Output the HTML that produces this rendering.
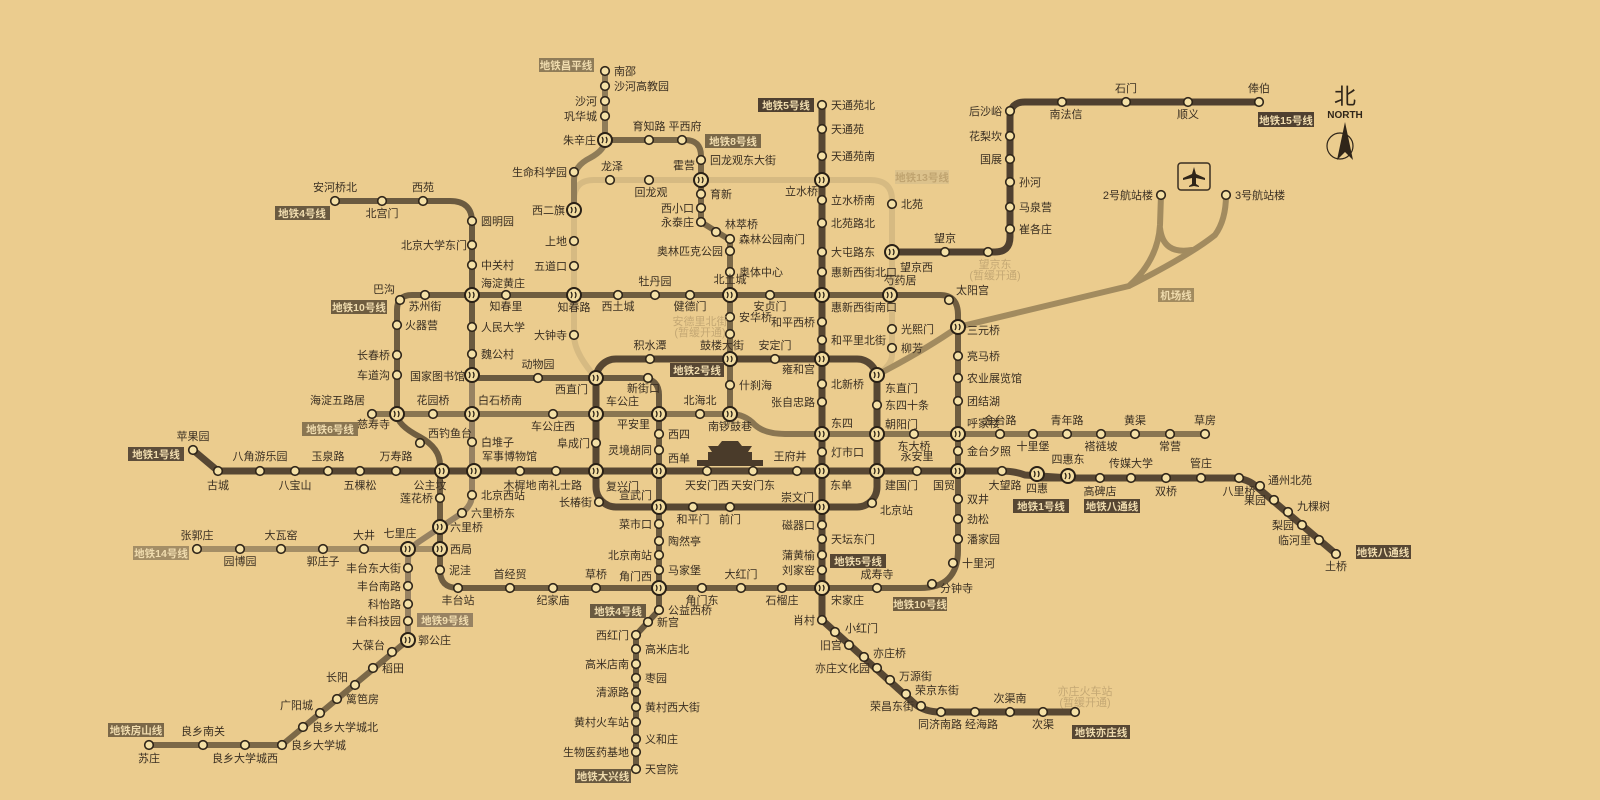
<!DOCTYPE html>
<html><head><meta charset="utf-8"><style>
html,body{margin:0;padding:0;background:#ebcc8e;}
svg{display:block;}
text{font-family:"Liberation Sans","Noto Sans CJK SC",sans-serif;font-size:11px;fill:#3a2f22;}
.r{text-anchor:start}.l{text-anchor:end}.c{text-anchor:middle}
.bx{fill:#f0dcae;font-size:10.5px;font-weight:bold;text-anchor:middle}
.lt{fill:#c4a874}
</style></head><body>
<svg width="1600" height="800" viewBox="0 0 1600 800" xmlns="http://www.w3.org/2000/svg">
<defs>
<symbol id="s" overflow="visible"><circle r="4.3" fill="#f4e0a6" stroke="#2f2519" stroke-width="1.6"/></symbol>
<symbol id="x" overflow="visible"><circle r="7" fill="#f2dca0" stroke="#2a2116" stroke-width="2"/><path d="M-3,-3 q2,3 0,6 M1,-3 q2,3 0,6" stroke="#2a2116" stroke-width="1.3" fill="none"/></symbol>
</defs>
<rect width="1600" height="800" fill="#ebcc8e"/>
<g fill="none" stroke-linejoin="round" stroke-linecap="round">
<!-- 13 -->
<path d="M596,378 C585,365 574,350 574,335 L574,200 Q574,180 594,180 L870,180 Q892,180 892,200 L892,355 Q892,365 877,375" stroke="#d6ba82" stroke-width="6"/>
<!-- airport -->
<path d="M877,375 Q925,350 958,327 L1129,286 M1129,286 Q1158,260 1160,225 L1161,195 M1129,286 Q1190,255 1215,235 Q1226,220 1226,195 M1160,228 Q1163,255 1192,250" stroke="#a28b5f" stroke-width="6"/>
<!-- 14 -->
<path d="M197,549 L440,549" stroke="#a48e66" stroke-width="6"/>
<!-- changping -->
<path d="M605,71 L605,140 Q605,150 590,158 Q574,166 574,180 L574,210" stroke="#8f7c58" stroke-width="6"/>
<!-- 9 -->
<path d="M472,375 L472,495 Q472,505 462,513 L420,541 Q408,549 408,560 L408,640" stroke="#978262" stroke-width="6"/>
<!-- 6 -->
<path d="M372,414 L730,414 Q745,414 755,425 Q765,434 785,434 L1205,434" stroke="#8a7652" stroke-width="6"/>
<!-- 10 -->
<path d="M397,414 L397,310 Q397,295 412,295 L940,295 Q958,295 958,315 L958,550 Q958,588 920,588 L458,588 Q440,588 440,570 L440,465 Q440,448 420,437 Q397,425 397,414 Z" stroke="#6f5d40" stroke-width="6"/>
<!-- 8 -->
<path d="M605,140 L685,140 Q701,140 701,156 L701,222 L730,240 L730,414" stroke="#7a6848" stroke-width="6"/>
<!-- 4 -->
<path d="M335,201 L450,201 Q472,201 472,222 L472,372 Q472,378 480,378 L640,378 Q659,378 659,395 L659,610 L636,635 L636,769" stroke="#6a5a40" stroke-width="6"/>
<!-- fangshan -->
<path d="M408,640 L282,745 L149,745" stroke="#7b6848" stroke-width="6"/>
<!-- 2 -->
<rect x="596" y="359" width="281" height="148" rx="20" stroke="#574733" stroke-width="7"/>
<!-- 1 / batong -->
<path d="M193,450 L218,471 L1000,471 Q1015,471 1025,475 L1070,478 M1037,478 L1232,478 Q1248,478 1258,488 L1336,554" stroke="#574733" stroke-width="7"/>
<!-- 5 / yizhuang -->
<path d="M822,105 L822,620 L915,704 Q925,712 940,712 L1075,712" stroke="#574733" stroke-width="7"/>
<!-- 15 -->
<path d="M892,252 L995,252 Q1010,252 1010,237 L1010,117 Q1010,102 1025,102 L1259,102" stroke="#4f4030" stroke-width="7"/>
</g>
<!-- Tiananmen -->
<g fill="#4a3b2a"><rect x="697" y="460" width="66" height="6"/><rect x="708" y="452" width="44" height="8"/><polygon points="712,452 748,452 752,446 708,446"/><polygon points="718,446 742,446 738,441 722,441"/></g>
<!-- stations -->
<g>
<use href="#s" x="193" y="450"/><use href="#s" x="218" y="471"/><use href="#s" x="260" y="471"/><use href="#s" x="295" y="471"/><use href="#s" x="328" y="471"/><use href="#s" x="360" y="471"/><use href="#s" x="396" y="471"/><use href="#s" x="520" y="471"/><use href="#s" x="556" y="471"/><use href="#s" x="707" y="471"/><use href="#s" x="753" y="471"/><use href="#s" x="797" y="471"/><use href="#s" x="917" y="471"/><use href="#s" x="1002" y="471"/>
<use href="#s" x="1100" y="478"/><use href="#s" x="1131" y="478"/><use href="#s" x="1166" y="478"/><use href="#s" x="1201" y="478"/><use href="#s" x="1239" y="478"/><use href="#s" x="1260" y="486"/><use href="#s" x="1274" y="500"/><use href="#s" x="1288" y="512"/><use href="#s" x="1302" y="525"/><use href="#s" x="1319" y="540"/><use href="#s" x="1336" y="554"/>
<use href="#s" x="650" y="359"/><use href="#s" x="775" y="359"/><use href="#s" x="877" y="405"/><use href="#s" x="872" y="503"/><use href="#s" x="730" y="507"/><use href="#s" x="693" y="507"/><use href="#s" x="599" y="502"/><use href="#s" x="596" y="443"/>
<use href="#s" x="335" y="201"/><use href="#s" x="382" y="201"/><use href="#s" x="423" y="201"/><use href="#s" x="472" y="221"/><use href="#s" x="472" y="245"/><use href="#s" x="472" y="265"/><use href="#s" x="472" y="327"/><use href="#s" x="472" y="354"/><use href="#s" x="538" y="378"/><use href="#s" x="648" y="378"/><use href="#s" x="659" y="434"/><use href="#s" x="659" y="450"/><use href="#s" x="659" y="524"/><use href="#s" x="659" y="541"/><use href="#s" x="659" y="555"/><use href="#s" x="659" y="570"/><use href="#s" x="659" y="610"/><use href="#s" x="648" y="622"/><use href="#s" x="636" y="635"/><use href="#s" x="636" y="649"/><use href="#s" x="636" y="664"/><use href="#s" x="636" y="678"/><use href="#s" x="636" y="692"/><use href="#s" x="636" y="707"/><use href="#s" x="636" y="722"/><use href="#s" x="636" y="739"/><use href="#s" x="636" y="752"/><use href="#s" x="636" y="769"/>
<use href="#s" x="822" y="105"/><use href="#s" x="822" y="129"/><use href="#s" x="822" y="156"/><use href="#s" x="822" y="200"/><use href="#s" x="822" y="223"/><use href="#s" x="822" y="252"/><use href="#s" x="822" y="272"/><use href="#s" x="822" y="322"/><use href="#s" x="822" y="340"/><use href="#s" x="822" y="384"/><use href="#s" x="822" y="402"/><use href="#s" x="822" y="452"/><use href="#s" x="822" y="525"/><use href="#s" x="822" y="539"/><use href="#s" x="822" y="555"/><use href="#s" x="822" y="570"/>
<use href="#s" x="822" y="620"/><use href="#s" x="835" y="632"/><use href="#s" x="849" y="645"/><use href="#s" x="864" y="657"/><use href="#s" x="877" y="668"/><use href="#s" x="890" y="680"/><use href="#s" x="906" y="694"/><use href="#s" x="921" y="706"/><use href="#s" x="941" y="712"/><use href="#s" x="975" y="712"/><use href="#s" x="1010" y="712"/><use href="#s" x="1043" y="712"/><use href="#s" x="1075" y="712"/>
<use href="#s" x="400" y="300"/><use href="#s" x="425" y="295"/><use href="#s" x="506" y="295"/><use href="#s" x="618" y="295"/><use href="#s" x="655" y="295"/><use href="#s" x="690" y="295"/><use href="#s" x="770" y="295"/><use href="#s" x="949" y="300"/><use href="#s" x="958" y="356"/><use href="#s" x="958" y="378"/><use href="#s" x="958" y="401"/><use href="#s" x="958" y="451"/><use href="#s" x="958" y="499"/><use href="#s" x="958" y="519"/><use href="#s" x="958" y="539"/><use href="#s" x="953" y="563"/><use href="#s" x="932" y="584"/><use href="#s" x="877" y="588"/><use href="#s" x="782" y="588"/><use href="#s" x="741" y="588"/><use href="#s" x="702" y="588"/><use href="#s" x="596" y="588"/><use href="#s" x="553" y="588"/><use href="#s" x="510" y="588"/><use href="#s" x="458" y="588"/><use href="#s" x="440" y="570"/><use href="#s" x="440" y="498"/><use href="#s" x="420" y="443"/><use href="#s" x="397" y="375"/><use href="#s" x="397" y="355"/><use href="#s" x="397" y="325"/>
<use href="#s" x="472" y="442"/><use href="#s" x="472" y="495"/><use href="#s" x="462" y="513"/><use href="#s" x="408" y="568"/><use href="#s" x="408" y="586"/><use href="#s" x="408" y="604"/><use href="#s" x="408" y="621"/>
<use href="#s" x="392" y="652"/><use href="#s" x="373" y="668"/><use href="#s" x="355" y="685"/><use href="#s" x="337" y="699"/><use href="#s" x="320" y="713"/><use href="#s" x="303" y="727"/><use href="#s" x="282" y="745"/><use href="#s" x="245" y="745"/><use href="#s" x="203" y="745"/><use href="#s" x="149" y="745"/>
<use href="#s" x="197" y="549"/><use href="#s" x="240" y="549"/><use href="#s" x="281" y="549"/><use href="#s" x="323" y="549"/><use href="#s" x="364" y="549"/>
<use href="#s" x="372" y="414"/><use href="#s" x="433" y="414"/><use href="#s" x="553" y="414"/><use href="#s" x="700" y="414"/><use href="#s" x="914" y="434"/><use href="#s" x="1000" y="434"/><use href="#s" x="1033" y="434"/><use href="#s" x="1067" y="434"/><use href="#s" x="1101" y="434"/><use href="#s" x="1135" y="434"/><use href="#s" x="1170" y="434"/><use href="#s" x="1205" y="434"/>
<use href="#s" x="649" y="140"/><use href="#s" x="682" y="140"/><use href="#s" x="701" y="160"/><use href="#s" x="701" y="194"/><use href="#s" x="701" y="208"/><use href="#s" x="701" y="222"/><use href="#s" x="716" y="232"/><use href="#s" x="730" y="239"/><use href="#s" x="730" y="251"/><use href="#s" x="730" y="272"/><use href="#s" x="730" y="317"/><use href="#s" x="730" y="334"/><use href="#s" x="730" y="385"/>
<use href="#s" x="605" y="71"/><use href="#s" x="605" y="86"/><use href="#s" x="605" y="101"/><use href="#s" x="605" y="116"/><use href="#s" x="574" y="172"/>
<use href="#s" x="574" y="241"/><use href="#s" x="574" y="266"/><use href="#s" x="574" y="335"/><use href="#s" x="610" y="180"/><use href="#s" x="649" y="180"/><use href="#s" x="892" y="204"/><use href="#s" x="892" y="329"/><use href="#s" x="892" y="348"/>
<use href="#s" x="945" y="252"/><use href="#s" x="988" y="252"/><use href="#s" x="1010" y="229"/><use href="#s" x="1010" y="207"/><use href="#s" x="1010" y="182"/><use href="#s" x="1010" y="159"/><use href="#s" x="1010" y="136"/><use href="#s" x="1010" y="111"/><use href="#s" x="1062" y="102"/><use href="#s" x="1126" y="102"/><use href="#s" x="1188" y="102"/><use href="#s" x="1259" y="102"/>
<use href="#s" x="1161" y="195"/><use href="#s" x="1226" y="195"/>
<!-- interchanges -->
<use href="#x" x="442" y="471"/><use href="#x" x="474" y="471"/><use href="#x" x="596" y="471"/><use href="#x" x="659" y="471"/><use href="#x" x="822" y="471"/><use href="#x" x="877" y="471"/><use href="#x" x="958" y="471"/><use href="#x" x="1037" y="474"/><use href="#x" x="1068" y="476"/>
<use href="#x" x="596" y="378"/><use href="#x" x="730" y="359"/><use href="#x" x="822" y="359"/><use href="#x" x="877" y="375"/><use href="#x" x="877" y="434"/><use href="#x" x="822" y="507"/><use href="#x" x="659" y="507"/><use href="#x" x="596" y="414"/>
<use href="#x" x="472" y="295"/><use href="#x" x="472" y="375"/><use href="#x" x="659" y="414"/><use href="#x" x="659" y="588"/><use href="#x" x="822" y="180"/><use href="#x" x="822" y="295"/><use href="#x" x="822" y="434"/><use href="#x" x="822" y="588"/>
<use href="#x" x="574" y="295"/><use href="#x" x="730" y="295"/><use href="#x" x="890" y="295"/><use href="#x" x="958" y="327"/><use href="#x" x="958" y="434"/><use href="#x" x="440" y="549"/><use href="#x" x="440" y="527"/><use href="#x" x="397" y="414"/>
<use href="#x" x="408" y="549"/><use href="#x" x="408" y="640"/><use href="#x" x="472" y="414"/><use href="#x" x="730" y="414"/><use href="#x" x="605" y="140"/><use href="#x" x="701" y="180"/><use href="#x" x="574" y="210"/><use href="#x" x="892" y="252"/>
</g>
<!-- labels -->
<g>
<text class="c" x="193" y="440">苹果园</text><text class="c" x="218" y="489">古城</text><text class="c" x="260" y="460">八角游乐园</text><text class="c" x="295" y="489">八宝山</text><text class="c" x="328" y="460">玉泉路</text><text class="c" x="360" y="489">五棵松</text><text class="c" x="396" y="460">万寿路</text><text class="c" x="430" y="489">公主坟</text><text class="r" x="482" y="460">军事博物馆</text><text class="c" x="520" y="489">木樨地</text><text class="c" x="560" y="489">南礼士路</text><text class="r" x="606" y="490">复兴门</text><text class="r" x="668" y="462">西单</text><text class="c" x="707" y="489">天安门西</text><text class="c" x="753" y="489">天安门东</text><text class="c" x="790" y="460">王府井</text><text class="r" x="830" y="489">东单</text><text class="r" x="885" y="489">建国门</text><text class="c" x="917" y="460">永安里</text><text class="l" x="955" y="489">国贸</text><text class="c" x="1005" y="489">大望路</text><text class="c" x="1037" y="492">四惠</text><text class="c" x="1068" y="463">四惠东</text>
<text class="c" x="1100" y="495">高碑店</text><text class="c" x="1131" y="467">传媒大学</text><text class="c" x="1166" y="495">双桥</text><text class="c" x="1201" y="467">管庄</text><text class="c" x="1239" y="495">八里桥</text><text class="r" x="1268" y="484">通州北苑</text><text class="l" x="1266" y="504">果园</text><text class="r" x="1297" y="510">九棵树</text><text class="l" x="1294" y="529">梨园</text><text class="l" x="1311" y="544">临河里</text><text class="c" x="1336" y="570">土桥</text>
<text class="c" x="650" y="349">积水潭</text><text class="c" x="722" y="349">鼓楼大街</text><text class="c" x="775" y="349">安定门</text><text class="l" x="815" y="373">雍和宫</text><text class="r" x="885" y="392">东直门</text><text class="r" x="885" y="409">东四十条</text><text class="r" x="885" y="428">朝阳门</text><text class="r" x="880" y="514">北京站</text><text class="l" x="814" y="501">崇文门</text><text class="c" x="730" y="523">前门</text><text class="c" x="693" y="523">和平门</text><text class="l" x="652" y="499">宣武门</text><text class="l" x="592" y="506">长椿街</text><text class="l" x="590" y="447">阜成门</text><text class="r" x="606" y="405">车公庄</text><text class="l" x="588" y="393">西直门</text>
<text class="c" x="335" y="191">安河桥北</text><text class="c" x="382" y="217">北宫门</text><text class="c" x="423" y="191">西苑</text><text class="r" x="481" y="225">圆明园</text><text class="l" x="467" y="249">北京大学东门</text><text class="r" x="481" y="269">中关村</text><text class="r" x="481" y="287">海淀黄庄</text><text class="r" x="481" y="331">人民大学</text><text class="r" x="481" y="358">魏公村</text><text class="l" x="465" y="380">国家图书馆</text><text class="c" x="538" y="368">动物园</text><text class="r" x="627" y="392">新街口</text><text class="l" x="650" y="428">平安里</text><text class="r" x="668" y="438">西四</text><text class="l" x="652" y="454">灵境胡同</text><text class="l" x="652" y="528">菜市口</text><text class="r" x="668" y="545">陶然亭</text><text class="l" x="652" y="559">北京南站</text><text class="r" x="668" y="574">马家堡</text><text class="l" x="652" y="580">角门西</text><text class="r" x="668" y="614">公益西桥</text><text class="r" x="657" y="626">新宫</text><text class="l" x="629" y="639">西红门</text><text class="r" x="645" y="653">高米店北</text><text class="l" x="629" y="668">高米店南</text><text class="r" x="645" y="682">枣园</text><text class="l" x="629" y="696">清源路</text><text class="r" x="645" y="711">黄村西大街</text><text class="l" x="629" y="726">黄村火车站</text><text class="r" x="645" y="743">义和庄</text><text class="l" x="629" y="756">生物医药基地</text><text class="r" x="645" y="773">天宫院</text>
<text class="r" x="831" y="109">天通苑北</text><text class="r" x="831" y="133">天通苑</text><text class="r" x="831" y="160">天通苑南</text><text class="l" x="818" y="195">立水桥</text><text class="r" x="831" y="204">立水桥南</text><text class="r" x="831" y="227">北苑路北</text><text class="r" x="831" y="256">大屯路东</text><text class="r" x="831" y="276">惠新西街北口</text><text class="r" x="831" y="311">惠新西街南口</text><text class="l" x="815" y="326">和平西桥</text><text class="r" x="831" y="344">和平里北街</text><text class="r" x="831" y="388">北新桥</text><text class="l" x="815" y="406">张自忠路</text><text class="r" x="831" y="427">东四</text><text class="r" x="831" y="456">灯市口</text><text class="l" x="815" y="529">磁器口</text><text class="r" x="831" y="543">天坛东门</text><text class="l" x="815" y="559">蒲黄榆</text><text class="l" x="815" y="574">刘家窑</text><text class="r" x="831" y="604">宋家庄</text>
<text class="l" x="815" y="624">肖村</text><text class="r" x="845" y="632">小红门</text><text class="l" x="842" y="649">旧宫</text><text class="r" x="873" y="657">亦庄桥</text><text class="l" x="870" y="672">亦庄文化园</text><text class="r" x="899" y="680">万源街</text><text class="r" x="915" y="694">荣京东街</text><text class="l" x="914" y="710">荣昌东街</text><text class="c" x="958" y="728">同济南路 经海路</text><text class="c" x="1010" y="702">次渠南</text><text class="c" x="1043" y="728">次渠</text><text class="c lt" x="1085" y="695">亦庄火车站</text><text class="c lt" x="1085" y="706">(暂缓开通)</text>
<text class="l" x="395" y="293">巴沟</text><text class="c" x="425" y="310">苏州街</text><text class="c" x="506" y="310">知春里</text><text class="c" x="574" y="311">知春路</text><text class="c" x="618" y="310">西土城</text><text class="c" x="655" y="285">牡丹园</text><text class="c" x="690" y="310">健德门</text><text class="c" x="730" y="283">北土城</text><text class="c" x="770" y="310">安贞门</text><text class="c" x="900" y="284">芍药居</text><text class="r" x="956" y="294">太阳宫</text><text class="r" x="967" y="334">三元桥</text><text class="r" x="967" y="360">亮马桥</text><text class="r" x="967" y="382">农业展览馆</text><text class="r" x="967" y="405">团结湖</text><text class="r" x="967" y="427">呼家楼</text><text class="r" x="967" y="455">金台夕照</text><text class="r" x="967" y="503">双井</text><text class="r" x="967" y="523">劲松</text><text class="r" x="967" y="543">潘家园</text><text class="r" x="962" y="567">十里河</text><text class="r" x="940" y="592">分钟寺</text><text class="c" x="877" y="578">成寿寺</text><text class="c" x="782" y="604">石榴庄</text><text class="c" x="741" y="578">大红门</text><text class="c" x="702" y="604">角门东</text><text class="c" x="596" y="578">草桥</text><text class="c" x="553" y="604">纪家庙</text><text class="c" x="510" y="578">首经贸</text><text class="c" x="458" y="604">丰台站</text><text class="r" x="449" y="574">泥洼</text><text class="r" x="450" y="553">西局</text><text class="r" x="450" y="531">六里桥</text><text class="l" x="433" y="502">莲花桥</text><text class="r" x="428" y="437">西钓鱼台</text><text class="l" x="390" y="428">慈寿寺</text><text class="l" x="390" y="379">车道沟</text><text class="l" x="390" y="359">长春桥</text><text class="r" x="405" y="329">火器营</text>
<text class="r" x="481" y="446">白堆子</text><text class="r" x="481" y="499">北京西站</text><text class="r" x="471" y="517">六里桥东</text><text class="c" x="400" y="537">七里庄</text><text class="l" x="401" y="572">丰台东大街</text><text class="l" x="401" y="590">丰台南路</text><text class="l" x="401" y="608">科怡路</text><text class="l" x="401" y="625">丰台科技园</text><text class="r" x="418" y="644">郭公庄</text>
<text class="l" x="385" y="649">大葆台</text><text class="r" x="382" y="672">稻田</text><text class="l" x="348" y="681">长阳</text><text class="r" x="346" y="703">篱笆房</text><text class="l" x="313" y="709">广阳城</text><text class="r" x="312" y="731">良乡大学城北</text><text class="r" x="291" y="749">良乡大学城</text><text class="c" x="245" y="762">良乡大学城西</text><text class="c" x="203" y="735">良乡南关</text><text class="c" x="149" y="762">苏庄</text>
<text class="c" x="197" y="539">张郭庄</text><text class="c" x="240" y="565">园博园</text><text class="c" x="281" y="539">大瓦窑</text><text class="c" x="323" y="565">郭庄子</text><text class="c" x="364" y="539">大井</text>
<text class="l" x="365" y="404">海淀五路居</text><text class="c" x="433" y="404">花园桥</text><text class="r" x="478" y="404">白石桥南</text><text class="c" x="553" y="430">车公庄西</text><text class="c" x="700" y="404">北海北</text><text class="c" x="730" y="430">南锣鼓巷</text><text class="c" x="914" y="450">东大桥</text><text class="c" x="1000" y="424">金台路</text><text class="c" x="1033" y="450">十里堡</text><text class="c" x="1067" y="424">青年路</text><text class="c" x="1101" y="450">褡裢坡</text><text class="c" x="1135" y="424">黄渠</text><text class="c" x="1170" y="450">常营</text><text class="c" x="1205" y="424">草房</text>
<text class="l" x="596" y="144">朱辛庄</text><text class="c" x="649" y="130">育知路</text><text class="c" x="685" y="130">平西府</text><text class="r" x="710" y="164">回龙观东大街</text><text class="l" x="695" y="169">霍营</text><text class="r" x="710" y="198">育新</text><text class="l" x="694" y="212">西小口</text><text class="l" x="694" y="226">永泰庄</text><text class="r" x="725" y="228">林萃桥</text><text class="r" x="739" y="243">森林公园南门</text><text class="l" x="723" y="255">奥林匹克公园</text><text class="r" x="739" y="276">奥体中心</text><text class="r" x="739" y="321">安华桥</text><text class="c lt" x="700" y="325">安德里北街</text><text class="c lt" x="700" y="336">(暂缓开通)</text><text class="r" x="739" y="389">什刹海</text>
<text class="r" x="614" y="75">南邵</text><text class="r" x="614" y="90">沙河高教园</text><text class="l" x="597" y="105">沙河</text><text class="l" x="597" y="120">巩华城</text><text class="l" x="567" y="176">生命科学园</text>
<text class="l" x="565" y="214">西二旗</text><text class="l" x="567" y="245">上地</text><text class="l" x="567" y="270">五道口</text><text class="l" x="567" y="339">大钟寺</text><text class="c" x="612" y="170">龙泽</text><text class="c" x="651" y="196">回龙观</text><text class="r" x="901" y="208">北苑</text><text class="r" x="900" y="271">望京西</text><text class="r" x="901" y="333">光熙门</text><text class="r" x="901" y="352">柳芳</text>
<text class="c" x="945" y="242">望京</text><text class="c lt" x="995" y="268">望京东</text><text class="c lt" x="995" y="279">(暂缓开通)</text><text class="r" x="1019" y="233">崔各庄</text><text class="r" x="1019" y="211">马泉营</text><text class="r" x="1019" y="186">孙河</text><text class="l" x="1002" y="163">国展</text><text class="l" x="1002" y="140">花梨坎</text><text class="l" x="1002" y="115">后沙峪</text><text class="c" x="1066" y="118">南法信</text><text class="c" x="1126" y="92">石门</text><text class="c" x="1188" y="118">顺义</text><text class="c" x="1259" y="92">俸伯</text>
<text class="l" x="1153" y="199">2号航站楼</text><text class="r" x="1235" y="199">3号航站楼</text>
</g>
<!-- line name boxes -->
<g>
<rect x="128" y="447" width="56" height="14" fill="#5d4d3a"/><text class="bx" x="156" y="458">地铁1号线</text>
<rect x="133" y="546" width="56" height="14" fill="#a48e66"/><text class="bx" x="161" y="557">地铁14号线</text>
<rect x="302" y="422" width="56" height="14" fill="#8a7652"/><text class="bx" x="330" y="433">地铁6号线</text>
<rect x="331" y="300" width="56" height="14" fill="#6f5d40"/><text class="bx" x="359" y="311">地铁10号线</text>
<rect x="275" y="206" width="55" height="14" fill="#6a5a40"/><text class="bx" x="302" y="217">地铁4号线</text>
<rect x="539" y="58" width="55" height="14" fill="#8f7c58"/><text class="bx" x="566" y="69">地铁昌平线</text>
<rect x="705" y="134" width="56" height="14" fill="#7a6848"/><text class="bx" x="733" y="145">地铁8号线</text>
<rect x="758" y="98" width="56" height="14" fill="#4f4030"/><text class="bx" x="786" y="109">地铁5号线</text>
<rect x="895" y="170" width="54" height="14" fill="#dcc28c"/><text class="bx" x="922" y="181" style="fill:#c0a470">地铁13号线</text>
<rect x="1258" y="112" width="56" height="15" fill="#4f4030"/><text class="bx" x="1286" y="124">地铁15号线</text>
<rect x="1158" y="288" width="36" height="14" fill="#a28b5f"/><text class="bx" x="1176" y="299">机场线</text>
<rect x="670" y="363" width="54" height="14" fill="#574733"/><text class="bx" x="697" y="374">地铁2号线</text>
<rect x="1013" y="499" width="56" height="14" fill="#574733"/><text class="bx" x="1041" y="510">地铁1号线</text>
<rect x="1084" y="499" width="56" height="14" fill="#574733"/><text class="bx" x="1112" y="510">地铁八通线</text>
<rect x="1356" y="545" width="55" height="14" fill="#574733"/><text class="bx" x="1383" y="556">地铁八通线</text>
<rect x="830" y="554" width="56" height="14" fill="#574733"/><text class="bx" x="858" y="565">地铁5号线</text>
<rect x="893" y="597" width="54" height="14" fill="#6f5d40"/><text class="bx" x="920" y="608">地铁10号线</text>
<rect x="590" y="604" width="56" height="14" fill="#6a5a40"/><text class="bx" x="618" y="615">地铁4号线</text>
<rect x="575" y="769" width="56" height="14" fill="#6a5a40"/><text class="bx" x="603" y="780">地铁大兴线</text>
<rect x="1072" y="725" width="58" height="14" fill="#574733"/><text class="bx" x="1101" y="736">地铁亦庄线</text>
<rect x="417" y="613" width="56" height="14" fill="#978262"/><text class="bx" x="445" y="624">地铁9号线</text>
<rect x="108" y="723" width="56" height="14" fill="#7b6848"/><text class="bx" x="136" y="734">地铁房山线</text>
</g>
<!-- airport icon -->
<rect x="1178" y="163" width="32" height="27" rx="3" fill="none" stroke="#3a2f22" stroke-width="1.5"/>
<path d="M1194,167 L1196,174 L1205,178 L1205,180 L1196,178 L1196,184 L1199,186 L1199,187 L1194,186 L1189,187 L1189,186 L1192,184 L1192,178 L1183,180 L1183,178 L1192,174 Z" fill="#2f2519"/>
<!-- north -->
<text x="1345" y="104" class="c" style="font-size:22px;fill:#2f2519">北</text>
<text x="1345" y="118" class="c" style="font-size:10px;font-weight:bold;fill:#2f2519">NORTH</text>
<circle cx="1340" cy="146" r="13" fill="none" stroke="#2f2519" stroke-width="1.2"/>
<polygon points="1345,122 1337,160 1345,152 1353,160" fill="#2f2519"/>
</svg>
</body></html>
